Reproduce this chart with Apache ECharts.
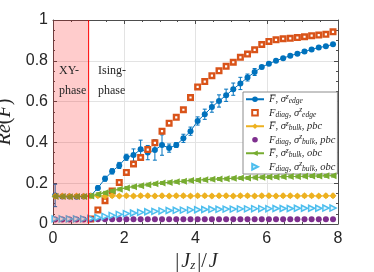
<!DOCTYPE html>
<html><head><meta charset="utf-8">
<script src="https://cdn.jsdelivr.net/npm/echarts@6/dist/echarts.min.js"></script>
<style>html,body{margin:0;padding:0;background:#fff}#c{width:374px;height:272px}</style>
</head><body><div id="c"></div>
<script>
// ---- data ----
const jz = [0.06,0.26,0.46,0.66,0.86,1.06,1.26,1.46,1.66,1.86,2.06,2.26,2.46,2.66,2.86,3.06,3.26,3.46,3.66,3.86,
            4.06,4.26,4.46,4.66,4.86,5.06,5.26,5.46,5.66,5.86,6.06,6.26,6.46,6.66,6.86,7.06,7.26,7.46,7.66,7.86];
const fbarEdge = [0.14,0.135,0.135,0.134,0.135,0.138,0.177,0.222,0.258,0.287,0.327,0.338,0.366,0.35,0.363,0.387,0.372,0.387,0.42,0.455,
                  0.505,0.538,0.573,0.603,0.631,0.661,0.689,0.718,0.745,0.769,0.786,0.8,0.813,0.825,0.835,0.845,0.856,0.865,0.871,0.881];
const fbarEdgeErr = [0.055,0.008,0.008,0.008,0.008,0.008,0.01,0.012,0.013,0.015,0.015,0.03,0.045,0.035,0.05,0.05,0.02,0.012,0.02,0.02,
                     0.02,0.025,0.025,0.03,0.03,0.03,0.03,0.017,0.017,0.008,0.007,0.007,0.006,0.006,0.006,0.006,0.006,0.006,0.006,0.006];
const fdiagEdge = [null,null,null,null,null,0.025,0.069,0.114,0.162,0.204,0.253,0.294,0.326,0.365,0.398,0.455,0.494,0.523,0.56,0.62,
                   0.672,0.698,0.727,0.751,0.773,0.793,0.817,0.833,0.854,0.88,0.895,0.903,0.908,0.91,0.914,0.918,0.923,0.926,0.93,0.942];
const fbarBulkPbc = [0.136,0.137,0.136,0.137,0.136,0.137,0.138,0.137,0.138,0.137,0.138,0.137,0.138,0.138,0.137,0.138,0.137,0.138,0.138,0.137,
                     0.138,0.138,0.137,0.138,0.138,0.137,0.138,0.138,0.137,0.138,0.138,0.137,0.138,0.138,0.137,0.138,0.138,0.137,0.138,0.138];
const fbarBulkPbcErr = [0.008,0.008,0.008,0.008,0.008,0.008,0.008,0.008,0.008,0.008,0.008,0.008,0.008,0.008,0.008,0.008,0.008,0.008,0.008,0.008,
                        0.008,0.008,0.008,0.008,0.008,0.008,0.008,0.008,0.008,0.008,0.008,0.008,0.008,0.008,0.008,0.008,0.008,0.008,0.008,0.008];
const fdiagBulkPbc = [0.022,0.022,0.022,0.022,0.022,0.023,0.023,0.023,0.023,0.023,0.023,0.023,0.023,0.023,0.023,0.023,0.023,0.023,0.023,0.023,
                      0.023,0.023,0.023,0.023,0.023,0.023,0.023,0.023,0.023,0.023,0.023,0.023,0.023,0.023,0.023,0.023,0.023,0.023,0.023,0.023];
const fbarBulkObc = [0.135,0.135,0.134,0.135,0.135,0.137,0.146,0.153,0.162,0.17,0.177,0.183,0.188,0.193,0.197,0.201,0.204,0.207,0.21,0.213,
                     0.215,0.217,0.219,0.221,0.222,0.224,0.225,0.226,0.228,0.229,0.23,0.231,0.232,0.233,0.233,0.234,0.235,0.235,0.236,0.237];
const fbarBulkObcErr = [0.007,0.007,0.007,0.007,0.007,0.007,0.007,0.007,0.007,0.007,0.007,0.007,0.007,0.007,0.007,0.007,0.007,0.007,0.007,0.007,
                        0.007,0.007,0.007,0.007,0.007,0.007,0.007,0.007,0.007,0.007,0.007,0.007,0.007,0.007,0.007,0.007,0.007,0.007,0.007,0.007];
const fdiagBulkObc = [0.025,0.025,0.025,0.025,0.025,0.027,0.032,0.037,0.042,0.047,0.051,0.054,0.057,0.06,0.062,0.064,0.066,0.067,0.068,0.069,
                      0.070,0.071,0.072,0.072,0.073,0.073,0.074,0.074,0.075,0.075,0.075,0.076,0.076,0.076,0.077,0.077,0.077,0.077,0.078,0.078];
const xTicks = [0,2,4,6,8];
const yTicks = [0,0.2,0.4,0.6,0.8,1];
const phaseBoundary = [0,1];
const seriesNames = ['a','b','c','d','e','f'];
const legendLabels = {
  a:'{n|F\u0305}{u|, }{n|σ}{p|z}{b|edge}',
  b:'{n|F}{b|diag}{u|, }{n|σ}{p|z}{b|edge}',
  c:'{n|F\u0305}{u|, }{n|σ}{p|z}{b|bulk}{u|, }{n|pbc}',
  d:'{n|F}{b|diag}{u|, }{n|σ}{p|z}{b|bulk}{u|, }{n|pbc}',
  e:'{n|F\u0305}{u|, }{n|σ}{p|z}{b|bulk}{u|, }{n|obc}',
  f:'{n|F}{b|diag}{u|, }{n|σ}{p|z}{b|bulk}{u|, }{n|obc}'
};

// ---- helpers ----
const pts = ys => jz.map((x,i)=>[x,ys[i]]).filter(p=>p[1]!=null);
function errSeries(ys, es, color, z){
  return {type:'custom', z:z, silent:true, xAxisIndex:0, yAxisIndex:0,
    data: jz.map((x,i)=>[x, ys[i]-es[i], ys[i]+es[i]]),
    encode:{x:0,y:[1,2]},
    renderItem:(p,api)=>{
      const lo=api.coord([api.value(0),api.value(1)]), hi=api.coord([api.value(0),api.value(2)]); const w=2;
      const st={stroke:color,lineWidth:1};
      return {type:'group',children:[
        {type:'line',shape:{x1:lo[0],y1:lo[1],x2:hi[0],y2:hi[1]},style:st},
        {type:'line',shape:{x1:lo[0]-w,y1:lo[1],x2:lo[0]+w,y2:lo[1]},style:st},
        {type:'line',shape:{x1:hi[0]-w,y1:hi[1],x2:hi[0]+w,y2:hi[1]},style:st}]};
    }};
}
const C = {blue:'#0072BD',orange:'#D95319',yellow:'#EDB120',purple:'#7E2F8E',green:'#77AC30',cyan:'#4DBEEE'};
const axCol = '#4d4d4d', txtCol='#262626';
const tickFont = {color:txtCol,fontSize:16,fontFamily:'Liberation Sans'};
const serif = 'Liberation Serif';

function xAx(pos, main){
  return {type:'value', position:pos, min:xTicks[0], max:xTicks[xTicks.length-1], interval:xTicks[1]-xTicks[0],
    axisLine:{show:true,onZero:false,lineStyle:{color:axCol,width:1}},
    axisTick:{show:true,inside:true,length:4,lineStyle:{color:axCol}},
    minorTick:{show:true,splitNumber:4,length:2,lineStyle:{color:axCol}},
    splitLine:{show:main,lineStyle:{color:'#e3e3e3'}},
    axisLabel:{show:main,margin:7,...tickFont},
    name: main ? '{u||}{i|J}{s|z}{u||/}{i|J}' : '', nameLocation:'middle', nameGap:25,
    nameTextStyle:{rich:{i:{fontFamily:serif,fontStyle:'italic',fontSize:20,color:txtCol},
                         u:{fontFamily:serif,fontSize:20,color:txtCol,padding:[0,2,0,2]},
                         s:{fontFamily:serif,fontStyle:'italic',fontSize:13,color:txtCol,verticalAlign:'bottom',padding:[8,0,0,0]}}}
  };
}
function yAx(pos, main){
  return {type:'value', position:pos, min:yTicks[0], max:yTicks[yTicks.length-1], interval:yTicks[1]-yTicks[0],
    axisLine:{show:true,onZero:false,lineStyle:{color:axCol,width:1}},
    axisTick:{show:true,inside:true,length:4,lineStyle:{color:axCol}},
    minorTick:{show:true,splitNumber:4,length:2,lineStyle:{color:axCol}},
    splitLine:{show:main,lineStyle:{color:'#e3e3e3'}},
    axisLabel:{show:main,margin:5,formatter:v=>String(+v.toFixed(1)),...tickFont},
    name: main ? '{i|Re}{u|(}{i|F\u0305}{u|)}' : '', nameLocation:'middle', nameGap:31,
    nameTextStyle:{rich:{i:{fontFamily:serif,fontStyle:'italic',fontSize:20,color:txtCol},
                         u:{fontFamily:serif,fontSize:20,color:txtCol}}}
  };
}
function markerOnly(name, ys, symbol, size, itemStyle, z, rot){
  return {name, type:'line', data:pts(ys), symbol, symbolSize:size, symbolRotate:rot||0, showAllSymbol:true,
    lineStyle:{width:0,opacity:0}, itemStyle, z};
}
function lineErr(name, ys, symbol, size, color, z, rot){
  return {name, type:'line', data:pts(ys), symbol, symbolSize:size, symbolRotate:rot||0, showAllSymbol:true,
    lineStyle:{color,width:1}, itemStyle:{color}, z};
}

const chart = echarts.init(document.getElementById('c'), null, {renderer:'canvas'});
const sub = {fontFamily:serif,fontStyle:'italic',fontSize:7.5,color:txtCol};
chart.setOption({
  animation:false,
  backgroundColor:'#fff',
  grid:{left:53,right:36,top:20,bottom:48,show:false,outerBoundsMode:'none',containLabel:false},
  xAxis:[xAx('bottom',true), xAx('top',false)],
  yAxis:[yAx('left',true), yAx('right',false)],
  legend:{orient:'vertical', left:243, top:92, itemWidth:18, itemHeight:7, itemGap:1,
    padding:[1,2,1,2], borderColor:'#8c8c8c', borderWidth:1, backgroundColor:'#fff',
    data:seriesNames, formatter:n=>legendLabels[n],
    textStyle:{rich:{
      n:{fontFamily:serif,fontStyle:'italic',fontSize:10.5,color:txtCol,lineHeight:12.5},
      u:{fontFamily:serif,fontSize:10.5,color:txtCol,lineHeight:12.5},
      p:Object.assign({verticalAlign:'top',lineHeight:7},sub),
      b:Object.assign({verticalAlign:'bottom',lineHeight:7},sub)
    }}},
  graphic:[
    {type:'text',left:59,top:65,style:{text:'XY-',font:'12px "Liberation Serif"',fill:'#262626'},z:20},
    {type:'text',left:59,top:85,style:{text:'phase',font:'12px "Liberation Serif"',fill:'#262626'},z:20},
    {type:'text',left:98,top:65,style:{text:'Ising-',font:'12px "Liberation Serif"',fill:'#262626'},z:20},
    {type:'text',left:98,top:85,style:{text:'phase',font:'12px "Liberation Serif"',fill:'#262626'},z:20}
  ],
  series:[
    errSeries(fbarEdge,fbarEdgeErr,C.blue,2),
    lineErr('a', fbarEdge, 'circle', 6, C.blue, 3),
    markerOnly('b', fdiagEdge, 'rect', 4.6, {color:'#fff',borderColor:C.orange,borderWidth:2.4}, 4),
    errSeries(fbarBulkPbc,fbarBulkPbcErr,C.yellow,5),
    lineErr('c', fbarBulkPbc, 'diamond', 7, C.yellow, 5),
    markerOnly('d', fdiagBulkPbc, 'circle', 6, {color:C.purple}, 6),
    errSeries(fbarBulkObc,fbarBulkObcErr,C.green,7),
    lineErr('e', fbarBulkObc, 'triangle', 7, C.green, 7, 90),
    markerOnly('f', fdiagBulkObc, 'triangle', 6, {color:'#e8f7fd',borderColor:C.cyan,borderWidth:1.5}, 8, -90),
    {type:'custom',z:12,silent:true,data:[[phaseBoundary[0],phaseBoundary[1]]],
     renderItem:(p,api)=>{
       const a=api.coord([api.value(0),yTicks[yTicks.length-1]]), b=api.coord([api.value(1),yTicks[0]]);
       return {type:'group',children:[
         {type:'rect',shape:{x:a[0],y:a[1],width:b[0]-a[0],height:b[1]-a[1]},style:{fill:'rgba(255,0,0,0.2)'}},
         {type:'line',shape:{x1:b[0],y1:a[1],x2:b[0],y2:b[1]},style:{stroke:'#ff0000',lineWidth:1}}]};
     }}
  ]
});
</script></body></html>
